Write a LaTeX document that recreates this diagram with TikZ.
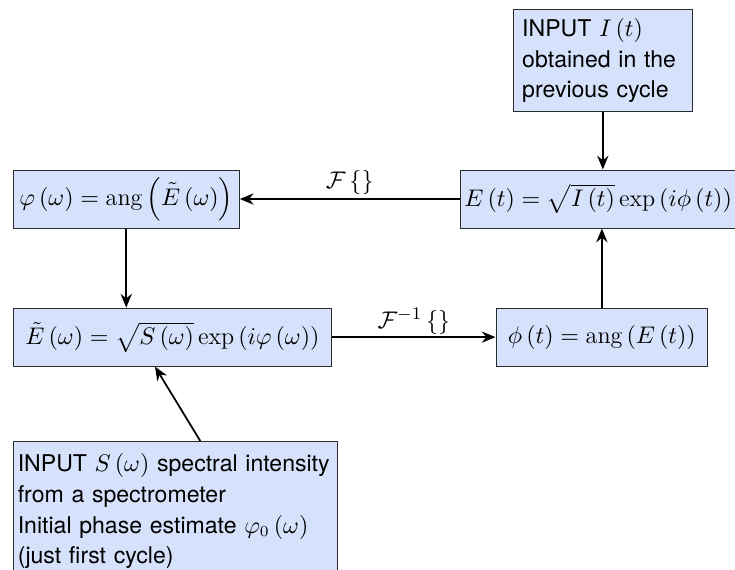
\documentclass[tikz,border=0pt]{standalone}
\usepackage{amsmath,amssymb}
\usepackage{fontspec}
\setsansfont{TeX Gyre Heros}
\usepackage{xcolor}
\usepackage{tikz}
\usetikzlibrary{arrows.meta,positioning}
\definecolor{boxfill}{HTML}{D6E2FB}
\definecolor{boxline}{HTML}{2B2B2B}
\DeclareMathOperator{\ang}{ang}
\tikzset{
  ar/.style={-{Stealth[length=2.2mm,width=1.8mm]},thick,black},
  box/.style={draw=boxline,fill=boxfill,minimum height=0.93cm,inner sep=2pt},
  inbox/.style={draw=boxline,fill=boxfill,align=left,anchor=north west,
    font=\sffamily\fontsize{10.5}{14}\selectfont}
}
\begin{document}
\begin{tikzpicture}[font=\fontsize{11}{13}\selectfont]
\useasboundingbox (0,0) rectangle (11.76,9.104);
\node[inbox,inner xsep=4pt,inner ysep=4pt,text width=2.86cm-8pt] (inI) at (8.208,8.96) {INPUT $I\left(t\right)$\\obtained in the\\previous cycle};
\node[box,minimum width=4.35cm] (Et) at (9.57,5.92) {$E\left(t\right)=\sqrt{I\left(t\right)}\exp\left(i\phi\left(t\right)\right)$};
\node[box,minimum width=3.62cm] (phiw) at (2.02,5.92) {$\varphi\left(\omega\right)=\ang\left(\tilde{E}\left(\omega\right)\right)$};
\node[box,minimum width=5.10cm] (Etw) at (2.76,3.71) {$\tilde{E}\left(\omega\right)=\sqrt{S\left(\omega\right)}\exp\left(i\varphi\left(\omega\right)\right)$};
\node[box,minimum width=3.39cm] (phit) at (9.63,3.71) {$\phi\left(t\right)=\ang\left(E\left(t\right)\right)$};
\node[inbox,inner xsep=2pt,inner ysep=5.5pt,text width=5.18cm-4pt] (inS) at (0.208,2.048) {INPUT $S\left(\omega\right)$ spectral intensity\\from a spectrometer\\Initial phase estimate $\varphi_{0}\left(\omega\right)$\\(just first cycle)};
% connectors
\draw[ar] (inI.south) -- (inI.south |- Et.north);
\draw[ar] (Et.west) -- node[above,inner sep=1.5pt] {$\mathcal{F}\left\{\right\}$} (phiw.east);
\draw[ar] (phiw.south) -- (phiw.south |- Etw.north);
\draw[ar] (Etw.east) -- node[above,inner sep=1pt] {$\mathcal{F}^{-1}\left\{\right\}$} (phit.west);
\draw[ar] (phit.north) -- (phit.north |- Et.south);
\draw[ar] ([xshift=0.4cm]inS.north) -- ([xshift=-0.28cm]Etw.south);
\end{tikzpicture}
\end{document}
